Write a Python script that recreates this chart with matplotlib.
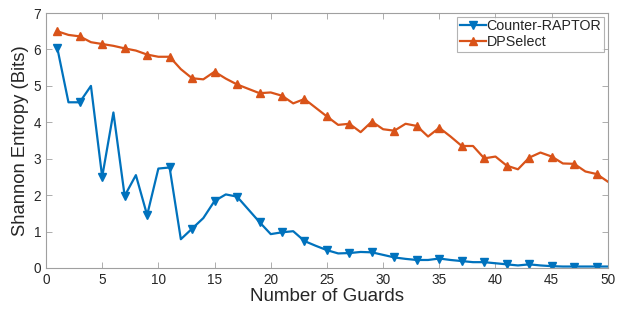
import matplotlib
matplotlib.use("Agg")
import matplotlib.pyplot as plt
import numpy as np

plt.rcParams['font.family'] = ['Liberation Sans', 'DejaVu Sans']

guards = list(range(1, 51))
counter_raptor = [6.05, 4.55, 4.55, 5.0, 2.5, 4.27, 1.98, 2.55, 1.45, 2.73,
                  2.76, 0.79, 1.08, 1.37, 1.84, 2.02, 1.96, 1.61, 1.26, 0.93,
                  0.98, 1.01, 0.74, 0.61, 0.49, 0.4, 0.41, 0.44, 0.43, 0.36,
                  0.29, 0.25, 0.22, 0.22, 0.26, 0.22, 0.19, 0.16, 0.16, 0.13,
                  0.1, 0.07, 0.1, 0.07, 0.05, 0.04, 0.04, 0.04, 0.04, 0.04]
dpselect = [6.5, 6.4, 6.36, 6.2, 6.15, 6.1, 6.03, 5.97, 5.86, 5.8,
            5.8, 5.46, 5.21, 5.18, 5.39, 5.2, 5.04, 4.92, 4.8, 4.82,
            4.73, 4.52, 4.64, 4.4, 4.16, 3.93, 3.96, 3.73, 4.02, 3.81,
            3.77, 3.96, 3.9, 3.61, 3.85, 3.61, 3.35, 3.35, 3.01, 3.06,
            2.81, 2.71, 3.03, 3.17, 3.06, 2.87, 2.86, 2.65, 2.58, 2.37]

blue = '#0072BD'
orange = '#D95319'
gray = '#262626'
spine = '#A0A0A0'

fig = plt.figure(figsize=(6.19, 3.11), dpi=100)
ax = fig.add_axes([0.0743, 0.1383, 0.9077, 0.8197])

ax.plot(guards, counter_raptor, color=blue, lw=1.6, marker='v', ms=5.5,
        markevery=2, label='Counter-RAPTOR')
ax.plot(guards, dpselect, color=orange, lw=1.6, marker='^', ms=5.5,
        markevery=2, label='DPSelect')

ax.set_xlim(0, 50)
ax.set_ylim(0, 7)
ax.set_xticks(range(0, 51, 5))
ax.set_yticks(range(0, 8))
ax.tick_params(direction='in', length=4, width=0.6, colors=spine,
               labelcolor=gray, labelsize=9.8, top=True, right=True)
for s in ax.spines.values():
    s.set_color(spine)
    s.set_linewidth(0.8)

ax.set_xlabel('Number of Guards', fontsize=13.5, color=gray, labelpad=1)
ax.set_ylabel('Shannon Entropy (Bits)', fontsize=13.3, color=gray, labelpad=3)

leg = ax.legend(loc='upper right', fontsize=10.3, frameon=True, fancybox=False,
                edgecolor=spine, borderpad=0.2, handlelength=1.8,
                handletextpad=0.05, labelspacing=0.1, borderaxespad=0.25)
leg.get_frame().set_linewidth(0.8)
for t in leg.get_texts():
    t.set_color(gray)

fig.savefig('out.png', dpi=100)
